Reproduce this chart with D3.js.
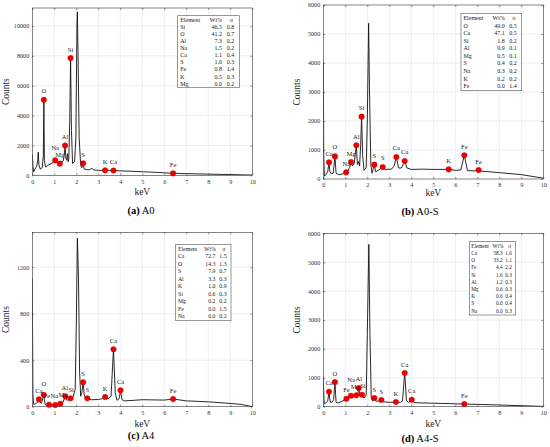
<!DOCTYPE html>
<html><head><meta charset="utf-8">
<script src="https://cdn.jsdelivr.net/npm/d3@7"></script>
<style>
html,body{margin:0;padding:0;background:#fff;}
svg text{font-family:"Liberation Serif","Times New Roman",Times,"DejaVu Serif",serif;}
</style></head>
<body>
<svg id="chart" width="550" height="447"></svg>
<script>
// ---------------- DATA ----------------
const xTicks = [0,1,2,3,4,5,6,7,8,9,10];
const tableHeader = ["Element","Wt%","σ"];

// (a) A0
const specA0 = [[0,1380],[0.03,600],[0.06,230],[0.12,420],[0.2,600],[0.25,1000],[0.27,1550],[0.3,700],[0.36,420],[0.45,500],[0.5,1300],[0.525,5050],[0.55,1000],[0.6,560],[0.7,650],[0.85,780],[0.95,860],[1.04,1000],[1.1,860],[1.2,790],[1.25,780],[1.3,850],[1.4,950],[1.45,1300],[1.49,2000],[1.53,1100],[1.57,1000],[1.6,1450],[1.63,900],[1.66,1100],[1.7,3500],[1.74,7850],[1.78,3000],[1.83,800],[1.92,900],[1.98,2500],[2.03,10000],[2.05,10950],[2.08,8000],[2.13,2500],[2.2,650],[2.25,500],[2.31,800],[2.36,420],[2.45,380],[2.6,370],[2.7,460],[2.8,360],[3.0,330],[3.31,330],[3.5,330],[3.69,320],[4,300],[5,240],[6,170],[6.4,130],[7,110],[8,80],[9,50],[10,15]];
const peaksA0 = [["O",0.525,5050],["Na",1.04,1000],["Mg",1.25,780],["Al",1.49,2000],["Si",1.74,7850],["S",2.31,800],["K",3.31,330],["Ca",3.69,320],["Fe",6.4,130]];
const tableA0 = [["Si",46.5,0.8],["O",41.2,0.7],["Al",7.3,0.2],["Na",1.5,0.2],["Ca",1.1,0.4],["S",1.0,0.3],["Fe",0.8,1.4],["K",0.5,0.3],["Mg",0.0,0.2]];
const yTicksA0 = [0,2000,4000,6000,8000,10000];

// (b) A0-S
const specA0S = [[0,4050],[0.01,2500],[0.02,800],[0.05,100],[0.12,150],[0.2,250],[0.26,575],[0.3,250],[0.36,180],[0.45,200],[0.53,780],[0.58,200],[0.7,150],[0.85,170],[1.04,230],[1.12,280],[1.2,400],[1.26,586],[1.32,450],[1.4,520],[1.5,1160],[1.55,500],[1.6,600],[1.65,450],[1.7,1200],[1.74,2150],[1.79,800],[1.85,300],[1.95,400],[2.0,2000],[2.06,5370],[2.1,3000],[2.16,500],[2.22,200],[2.32,494],[2.38,250],[2.5,300],[2.7,414],[2.8,330],[3.1,340],[3.22,450],[3.32,759],[3.42,380],[3.55,380],[3.7,621],[3.8,380],[4.0,330],[4.5,340],[5.0,330],[5.7,333],[6.0,300],[6.25,310],[6.41,816],[6.55,290],[6.9,280],[7.06,310],[7.2,270],[8,220],[9,150],[10,30]];
const peaksA0S = [["Ca",0.26,575],["O",0.53,780],["Na",1.04,230],["Mg",1.26,586],["Al",1.5,1160],["Si",1.74,2150],["S",2.32,494],["S",2.7,414],["Ca",3.32,759],["Ca",3.7,621],["K",5.7,333],["Fe",6.41,816],["Fe",7.06,310]];
const tableA0S = [["O",49.0,0.5],["Ca",47.1,0.5],["Si",1.8,0.2],["Al",0.9,0.1],["Mg",0.5,0.1],["S",0.4,0.2],["Na",0.3,0.2],["K",0.2,0.2],["Fe",0.0,1.4]];
const yTicksA0S = [0,1000,2000,3000,4000,5000,6000];

// (c) A4
const specA4 = [[0,1100],[0.01,700],[0.03,100],[0.06,20],[0.15,25],[0.25,40],[0.3,63],[0.35,40],[0.42,30],[0.52,103],[0.58,20],[0.65,10],[0.76,17],[0.9,12],[1.04,15],[1.15,20],[1.27,26],[1.4,40],[1.5,89],[1.58,55],[1.66,60],[1.74,72],[1.85,80],[1.95,150],[2.0,700],[2.05,1450],[2.1,1100],[2.15,300],[2.2,90],[2.25,120],[2.31,210],[2.36,100],[2.42,75],[2.5,72],[2.7,60],[3.0,62],[3.2,70],[3.31,83],[3.45,70],[3.58,90],[3.69,494],[3.77,120],[3.85,55],[3.95,70],[4.01,141],[4.08,60],[4.2,50],[5,60],[6,57],[6.4,66],[7,50],[8,42],[9,28],[9.5,20],[10,0]];
const peaksA4 = [["Ca",0.3,63],["O",0.52,103],["Fe",0.76,17],["Na",1.04,15],["Mg",1.27,26],["Al",1.5,89],["Si",1.74,72],["S",2.31,210],["S",2.5,72],["K",3.31,83],["Ca",3.69,494],["Ca",4.01,141],["Fe",6.4,66]];
const tableA4 = [["Ca",72.7,1.5],["O",14.3,1.3],["S",7.9,0.7],["Al",3.3,0.3],["K",1.0,0.9],["Si",0.6,0.3],["Mg",0.2,0.2],["Fe",0.0,1.5],["Na",0.0,0.2]];
const yTicksA4 = [0,400,800,1200];

// (d) A4-S
const specA4S = [[0,1040],[0.01,700],[0.04,100],[0.12,130],[0.2,200],[0.26,519],[0.31,160],[0.4,150],[0.47,250],[0.53,854],[0.58,150],[0.65,130],[0.8,170],[0.95,230],[1.05,277],[1.15,320],[1.26,381],[1.38,340],[1.5,392],[1.56,400],[1.61,646],[1.66,380],[1.76,415],[1.85,300],[1.95,400],[2.0,2500],[2.07,5617],[2.12,2500],[2.18,300],[2.24,200],[2.32,300],[2.4,190],[2.55,200],[2.64,231],[2.75,170],[3.0,150],[3.3,161],[3.5,150],[3.6,200],[3.7,1165],[3.78,200],[3.88,150],[4.02,242],[4.12,140],[4.5,130],[5,120],[6,100],[6.41,92],[7,80],[8,60],[9,35],[10,10]];
const peaksA4S = [["Ca",0.26,519],["O",0.53,854],["Fe",1.05,277],["Na",1.26,381],["Mg",1.5,392],["Al",1.61,646],["Si",1.76,415],["S",2.32,300],["S",2.64,231],["K",3.3,161],["Ca",3.7,1165],["Ca",4.02,242],["Fe",6.41,92]];
const tableA4S = [["Ca",58.3,1.6],["O",33.2,1.1],["Fe",4.4,2.2],["Si",1.6,0.3],["Al",1.2,0.3],["Mg",0.6,0.3],["K",0.6,0.4],["S",0.0,0.4],["Na",0.0,0.3]];
const yTicksA4S = [0,1000,2000,3000,4000,5000,6000];

const captionLetters = ["(a)","(b)","(c)","(d)"];
const captionNames = ["A0","A0-S","A4","A4-S"];

// ---------------- LAYOUT ----------------
const FONT = '"Liberation Serif","Times New Roman",Times,"DejaVu Serif",serif';
const panels = [
  {spec:specA0, peaks:peaksA0, table:tableA0, yTicks:yTicksA0, ymax:11200,
   L:32.3, R:252.3, T:8, B:175.3, box:[177.7,15.7,239.3,87.7], tf:6, capX:141, capY:214, countsX:9, kevY:195},
  {spec:specA0S, peaks:peaksA0S, table:tableA0S, yTicks:yTicksA0S, ymax:6000,
   L:323.3, R:543.3, T:5, B:179, box:[461,13.3,521.7,90.7], tf:6, capX:420, capY:215, countsX:300, kevY:196},
  {spec:specA4, peaks:peaksA4, table:tableA4, yTicks:yTicksA4, ymax:1500,
   L:32.3, R:252.3, T:232.3, B:406.7, box:[175.7,244.3,231,320.7], tf:5.8, capX:141, capY:439, countsX:9, kevY:427},
  {spec:specA4S, peaks:peaksA4S, table:tableA4S, yTicks:yTicksA4S, ymax:6000,
   L:323.3, R:543.3, T:233.3, B:406.7, box:[469.3,241.7,515.7,315], tf:5.3, capX:420, capY:442, countsX:300, kevY:427}
];

const svg = d3.select("#chart");
const txt = "#222";
const fmt = d3.format("d");

panels.forEach((p, i) => {
  const x = d3.scaleLinear().domain([0,10]).range([p.L, p.R]);
  const y = d3.scaleLinear().domain([0,p.ymax]).range([p.B, p.T]);
  const g = svg.append("g").attr("font-family",FONT);

  g.append("rect").attr("x",p.L).attr("y",p.T).attr("width",p.R-p.L).attr("height",p.B-p.T).attr("fill","#fff");

  // grid
  g.append("g").selectAll("line").data(xTicks.slice(1,-1)).join("line")
    .attr("x1",d=>x(d)).attr("x2",d=>x(d)).attr("y1",p.T).attr("y2",p.B)
    .attr("stroke","#e3e3e3").attr("stroke-width",0.6);
  g.append("g").selectAll("line").data(p.yTicks.filter(v=>v>0 && v<p.ymax)).join("line")
    .attr("x1",p.L).attr("x2",p.R).attr("y1",d=>y(d)).attr("y2",d=>y(d))
    .attr("stroke","#e3e3e3").attr("stroke-width",0.6);

  const cid = "clip"+i;
  svg.append("defs").append("clipPath").attr("id",cid).append("rect")
    .attr("x",p.L).attr("y",p.T).attr("width",p.R-p.L).attr("height",p.B-p.T);

  // spectrum
  const line = d3.line().x(d=>x(d[0])).y(d=>y(d[1]));
  g.append("path").datum(p.spec).attr("d",line).attr("clip-path",`url(#${cid})`)
    .attr("fill","none").attr("stroke","#111").attr("stroke-width",0.9).attr("stroke-linejoin","round");

  // axes
  const gx = g.append("g").attr("transform",`translate(0,${p.B})`)
    .call(d3.axisBottom(x).tickValues(xTicks).tickFormat(fmt).tickSizeInner(-2).tickSizeOuter(0).tickPadding(4));
  const gy = g.append("g").attr("transform",`translate(${p.L},0)`)
    .call(d3.axisLeft(y).tickValues(p.yTicks).tickFormat(fmt).tickSizeInner(-2).tickSizeOuter(0).tickPadding(3));
  const gxt = g.append("g").attr("transform",`translate(0,${p.T})`)
    .call(d3.axisTop(x).tickValues(xTicks).tickSizeInner(-2).tickSizeOuter(0).tickFormat(""));
  const gyr = g.append("g").attr("transform",`translate(${p.R},0)`)
    .call(d3.axisRight(y).tickValues(p.yTicks).tickSizeInner(-2).tickSizeOuter(0).tickFormat(""));
  [gx,gy,gxt,gyr].forEach(a=>{
    a.attr("font-family",FONT);
    a.select(".domain").remove();
    a.selectAll("line").attr("stroke","#333").attr("stroke-width",0.5);
    a.selectAll("text").attr("font-family",FONT).attr("font-size",6.2).attr("fill","#333");
  });
  g.append("rect").attr("x",p.L).attr("y",p.T).attr("width",p.R-p.L).attr("height",p.B-p.T)
    .attr("fill","none").attr("stroke","#333").attr("stroke-width",0.6);

  // markers
  g.append("g").selectAll("circle").data(p.peaks).join("circle")
    .attr("cx",d=>x(d[1])).attr("cy",d=>y(d[2])).attr("r",2.8)
    .attr("fill","#ee0000").attr("stroke","#b00000").attr("stroke-width",0.3);

  // peak labels with light overlap avoidance
  const lf = 6.5;
  const labs = p.peaks.map(d=>({t:d[0], x:x(d[1]), y:y(d[2])-6.5}));
  const tmp = g.append("text").attr("font-size",lf).attr("font-family",FONT);
  labs.forEach(l=>{ tmp.text(l.t); l.w = tmp.node().getComputedTextLength(); });
  tmp.remove();
  const H = lf*1.05;
  for(let it=0; it<6; it++){
    for(let a=0;a<labs.length;a++){
      for(let b=a+1;b<labs.length;b++){
        const A=labs[a], B=labs[b];
        const ovx = Math.min(A.x+A.w/2, B.x+B.w/2) - Math.max(A.x-A.w/2, B.x-B.w/2) + 0.4;
        const dy = Math.abs(A.y-B.y);
        if(ovx>0 && dy<H){
          if(dy>2.5){ // push the upper one up
            const up = A.y<B.y ? A : B; up.y -= (H-dy);
          } else {
            const left = A.x<=B.x ? A : B, right = left===A ? B : A;
            left.x -= ovx/2; right.x += ovx/2;
          }
        }
      }
    }
  }
  g.append("g").selectAll("text").data(labs).join("text")
    .attr("x",d=>d.x).attr("y",d=>d.y)
    .attr("text-anchor","middle").attr("font-size",lf).attr("fill",txt).text(d=>d.t);

  // table
  const [bx0,by0,bx1,by1] = p.box;
  const bw = bx1-bx0;
  g.append("rect").attr("x",bx0).attr("y",by0).attr("width",bw).attr("height",by1-by0)
    .attr("fill","#fff").attr("stroke","#555").attr("stroke-width",0.6);
  const rowH = (by1-by0)/10.2;
  const rows = [tableHeader].concat(p.table.map(r=>[r[0], r[1].toFixed(1), r[2].toFixed(1)]));
  const tg = g.append("g").attr("font-size",p.tf).attr("fill",txt);
  rows.forEach((r,k)=>{
    const yy = by0 + rowH*(k+0.6) + p.tf*0.35;
    tg.append("text").attr("x",bx0+bw*0.04).attr("y",yy).text(r[0]);
    if(k===0){
      tg.append("text").attr("x",bx0+bw*0.62).attr("y",yy).attr("text-anchor","middle").text(r[1]);
      tg.append("text").attr("x",bx0+bw*0.87).attr("y",yy).attr("text-anchor","middle").text(r[2]);
    } else {
      tg.append("text").attr("x",bx0+bw*0.72).attr("y",yy).attr("text-anchor","end").text(r[1]);
      tg.append("text").attr("x",bx0+bw*0.92).attr("y",yy).attr("text-anchor","end").text(r[2]);
    }
  });

  // axis titles
  g.append("text").attr("transform",`translate(${p.countsX},${(p.T+p.B)/2}) rotate(-90)`)
    .attr("text-anchor","middle").attr("font-size",9.5).attr("fill",txt).text("Counts");
  g.append("text").attr("x",(p.L+p.R)/2).attr("y",p.kevY)
    .attr("text-anchor","middle").attr("font-size",9.5).attr("fill",txt).text("keV");

  // caption
  const cap = g.append("text").attr("x",p.capX).attr("y",p.capY).attr("text-anchor","middle")
    .attr("font-size",10.5).attr("fill","#000");
  cap.append("tspan").attr("font-weight","bold").text(captionLetters[i]);
  cap.append("tspan").text(" " + captionNames[i]);
});
</script>
</body></html>
